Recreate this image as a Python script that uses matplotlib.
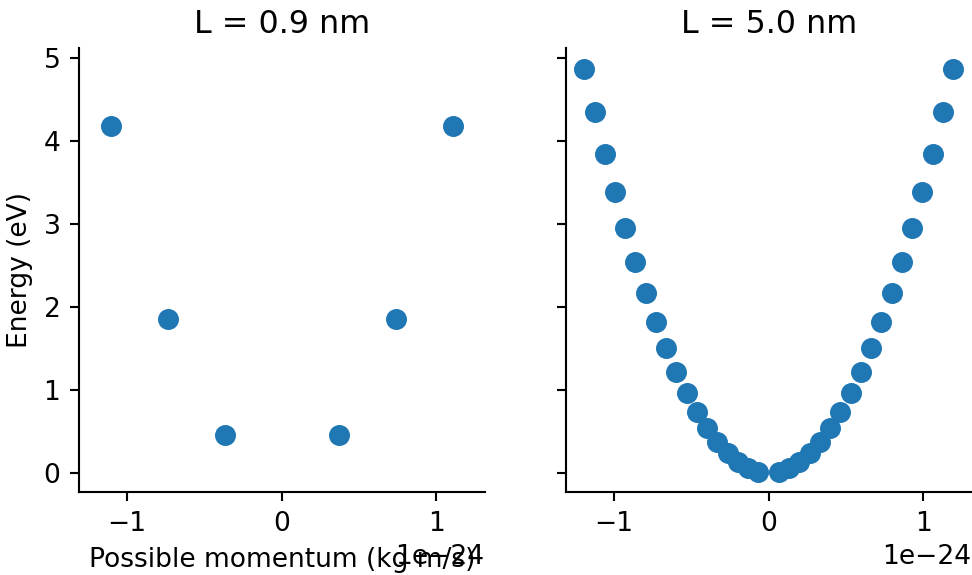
import matplotlib
matplotlib.use("Agg")
import matplotlib.pyplot as plt

# Box lengths (nm)
lengths = [0.9, 5.0]

# L = 0.9 nm: momentum (kg m/s) and energy (eV)
p_short = [-1.1044e-24, -0.7362e-24, -0.3681e-24, 0.3681e-24, 0.7362e-24, 1.1044e-24]
E_short = [4.178, 1.857, 0.464, 0.464, 1.857, 4.178]

# L = 5.0 nm: momentum (kg m/s) and energy (eV)
p_pos = [0.0663, 0.1325, 0.1988, 0.2650, 0.3313, 0.3976, 0.4638, 0.5301, 0.5963,
         0.6626, 0.7289, 0.7951, 0.8614, 0.9276, 0.9939, 1.0602, 1.1264, 1.1927]
E_pos = [0.015, 0.060, 0.135, 0.241, 0.376, 0.541, 0.737, 0.963, 1.218,
         1.504, 1.820, 2.166, 2.542, 2.948, 3.384, 3.850, 4.347, 4.873]
p_long = [-v * 1e-24 for v in p_pos[::-1]] + [v * 1e-24 for v in p_pos]
E_long = E_pos[::-1] + E_pos

sc = 1.06
plt.rcParams.update({
    "font.size": 10 * sc,
    "axes.linewidth": 0.8 * sc,
    "xtick.major.size": 3.5 * sc,
    "ytick.major.size": 3.5 * sc,
    "xtick.major.width": 0.8 * sc,
    "ytick.major.width": 0.8 * sc,
    "xtick.major.pad": 3.5 * sc,
    "ytick.major.pad": 3.5 * sc,
})

fig, axes = plt.subplots(1, 2, figsize=(5.4, 575 / 180), dpi=180, sharex=True, sharey=True)
fig.subplots_adjust(left=0.0813, right=0.9995, bottom=0.1443, top=0.9158, wspace=0.2)

for ax, L, p, E in zip(axes, lengths, [p_short, p_long], [E_short, E_long]):
    ax.scatter(p, E, s=36 * sc * sc * 1.35, color="#1f77b4")
    ax.set_title(f"L = {L} nm", fontsize=12 * sc)
    ax.spines["top"].set_visible(False)
    ax.spines["right"].set_visible(False)

axes[0].set_xlabel("Possible momentum (kg m/s)")
axes[0].set_ylabel("Energy (eV)")

fig.savefig("out.png", dpi=180)
